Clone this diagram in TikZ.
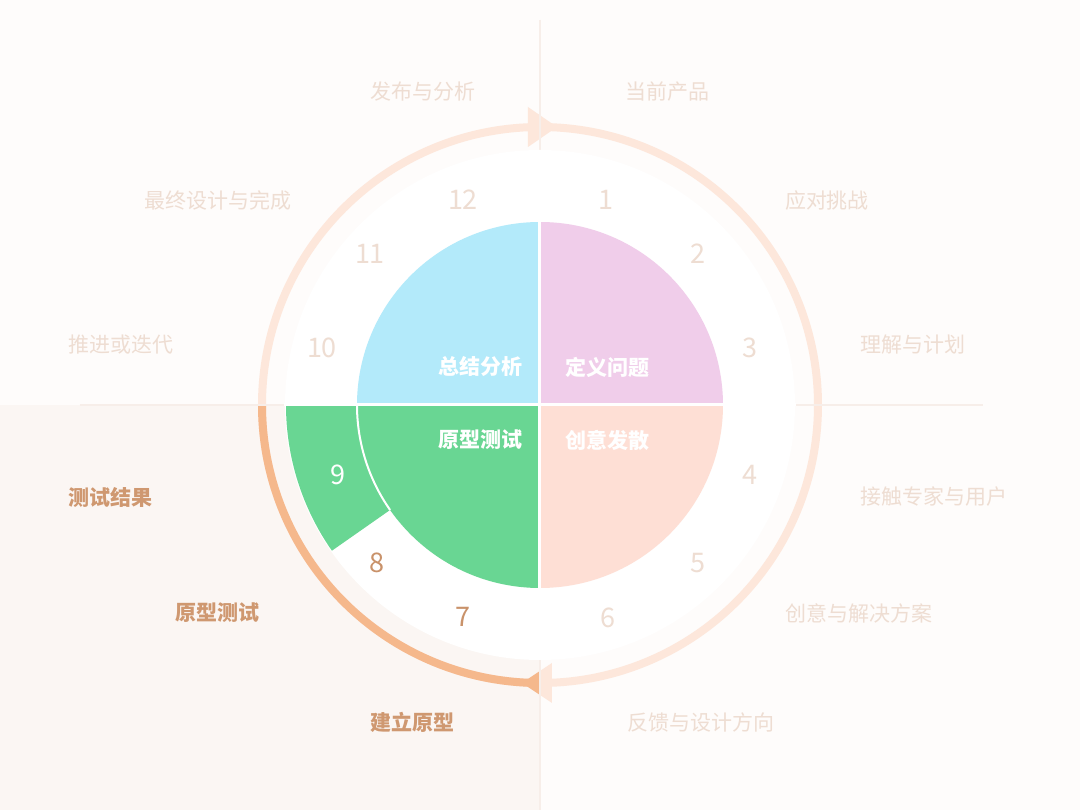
\documentclass[tikz,border=0pt]{standalone}
\usepackage{fontspec}
\newfontfamily\cjk{Noto Sans CJK SC}
\usepackage{tikz}
\definecolor{bgtop}{HTML}{FEFCFB}
\definecolor{bgcorner}{HTML}{FBF6F3}
\definecolor{gridline}{HTML}{F7EEE9}
\definecolor{ringpale}{HTML}{FDE7DB}
\definecolor{ringhot}{HTML}{F5B88C}
\definecolor{txtpale}{HTML}{EEDDD2}
\definecolor{txthot}{HTML}{CF9870}
\definecolor{numhot}{HTML}{C9926A}
\definecolor{qblue}{HTML}{B3EAFA}
\definecolor{qpink}{HTML}{F0CDEA}
\definecolor{qpeach}{HTML}{FEDFD5}
\definecolor{qgreen}{HTML}{69D693}
\tikzset{
every picture/.style={x=1pt,y=1pt},
stagetext/.style={font=\cjk\fontsize{21}{25}\selectfont, text=txtpale, inner sep=0pt},
stagehot/.style={font=\cjk\bfseries\fontsize{21}{25}\selectfont, text=txthot, inner sep=0pt},
numtext/.style={font=\cjk\fontsize{27}{32}\selectfont, inner sep=0pt},
quadtext/.style={font=\cjk\bfseries\fontsize{21}{25}\selectfont, text=white, inner sep=0pt}
}

\begin{document}
\begin{tikzpicture}
    \fill[bgtop] (-540,-405) rectangle (540,405);
    \fill[bgcorner] (-540,-405) rectangle (0,0);
    \useasboundingbox (-540,-405) rectangle (540,405);
    % cycle ring
    \draw[ringpale, line width=8] (0,0) circle (278);
    \fill[ringpale] (-12,298) -- (17,278) -- (-12,258) -- cycle;
    \fill[ringpale] (12,-258) -- (-18,-278) -- (12,-298) -- cycle;
    \begin{scope}
      \clip (-540,-405) rectangle (0,0);
      \draw[ringhot, line width=8] (0,0) circle (278);
      \fill[ringhot] (12,-258) -- (-18,-278) -- (12,-298) -- cycle;
    \end{scope}
    \draw[gridline, line width=2] (-460,0) -- (443,0);
    \draw[gridline, line width=2] (0,385) -- (0,-405);
    \fill[white] (0,0) circle (255);
    \fill[qgreen] (180:183) -- (180:254) arc (180:215:254) -- (215:183) -- cycle;
    \foreach \a/\c in {0/qpink,90/qblue,180/qgreen,270/qpeach} {
      \fill[\c] (0,0) -- (\a:183) arc (\a:\a+90:183) -- cycle;
    }
    \draw[white, line width=2] (180:183) arc (180:215:183);
    \draw[white, line width=3] (-256,0) -- (256,0);
    \draw[white, line width=3] (0,-186) -- (0,186);
    % quadrant names
    \node[quadtext, anchor=east] (sum) at (-17,38) {总结分析};
    \node[quadtext, anchor=west] (def) at (25,38) {定义问题};
    \node[quadtext, anchor=east] (pro) at (-17,-35) {原型测试};
    \node[quadtext, anchor=west] (ide) at (25,-35) {创意发散};
    % steps
    \foreach \i/\p/\c in {1/{66,205}/txtpale, 2/{158,151}/txtpale, 3/{210,57}/txtpale,
        4/{210,-70}/txtpale, 5/{158,-158}/txtpale, 6/{68,-213}/txtpale,
        7/{-77,-212}/numhot, 8/{-163,-158}/numhot, 9/{-202,-70}/white,
        10/{-218,57}/txtpale, 11/{-170,151}/txtpale, 12/{-77,205}/txtpale} {
      \node[numtext, text=\c] (n\i) at (\p) {\i};
    }
    \node[stagetext] (s12) at (-117,313) {发布与分析};
    \node[stagetext] (s1) at (128,313) {当前产品};
    \node[stagetext] (s11) at (-322,204) {最终设计与完成};
    \node[stagetext] (s2) at (287,204) {应对挑战};
    \node[stagetext] (s10) at (-419,60) {推进或迭代};
    \node[stagetext] (s3) at (373,60) {理解与计划};
    \node[stagehot] (s9) at (-429,-92) {测试结果};
    \node[stagetext] (s4) at (394,-92) {接触专家与用户};
    \node[stagehot] (s8) at (-322,-208) {原型测试};
    \node[stagetext] (s5) at (319,-208) {创意与解决方案};
    \node[stagehot] (s7) at (-127,-317) {建立原型};
    \node[stagetext] (s6) at (161,-317) {反馈与设计方向};
\end{tikzpicture}
\end{document}
